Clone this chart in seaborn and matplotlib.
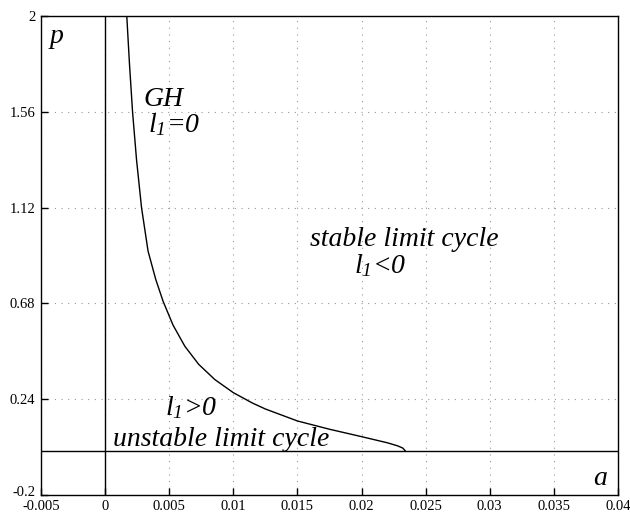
import matplotlib
matplotlib.use("Agg")
import matplotlib.pyplot as plt
import matplotlib.transforms as mtransforms
import seaborn as sns
import pandas as pd

# GH curve (l1 = 0)
a_vals = [0.00169, 0.00190, 0.00214, 0.00245, 0.00284, 0.00335, 0.00395, 0.00452,
          0.00530, 0.00622, 0.00730, 0.00856, 0.01000, 0.01150, 0.01250, 0.01500,
          0.01750, 0.02000, 0.02200, 0.02280, 0.02320, 0.02335, 0.02344]
p_vals = [2.000, 1.780, 1.560, 1.340, 1.120, 0.920, 0.790, 0.690,
          0.580, 0.483, 0.400, 0.330, 0.270, 0.222, 0.195, 0.140,
          0.102, 0.068, 0.040, 0.026, 0.016, 0.007, 0.000]

x_ticks = [-0.005, 0, 0.005, 0.01, 0.015, 0.02, 0.025, 0.03, 0.035, 0.04]
x_labels = ["-0.005", "0", "0.005", "0.01", "0.015", "0.02", "0.025", "0.03", "0.035", "0.04"]
y_ticks = [-0.2, 0.24, 0.68, 1.12, 1.56, 2.0]
y_labels = ["-0.2", "0.24", "0.68", "1.12", "1.56", "2"]

sns.set_theme(style="white")
plt.rcParams["font.family"] = ["Liberation Serif", "DejaVu Serif"]
plt.rcParams["mathtext.fontset"] = "custom"
plt.rcParams["mathtext.rm"] = "Liberation Serif:italic"
plt.rcParams["mathtext.it"] = "Liberation Serif:italic"

fig = plt.figure(figsize=(6.30, 5.16), dpi=100)
ax = fig.add_axes([41 / 630, 21 / 516, (618 - 41) / 630, (495 - 16) / 516])

df = pd.DataFrame({"a": a_vals, "p": p_vals})
sns.lineplot(data=df, x="a", y="p", sort=False, estimator=None, color="black",
             linewidth=1.0, ax=ax)

ax.axvline(0, color="black", linewidth=1.0)
ax.axhline(0, color="black", linewidth=1.0)

ax.set_xlim(-0.005, 0.04)
ax.set_ylim(-0.2, 2.0)
ax.set_xticks(x_ticks)
ax.set_xticklabels(x_labels)
ax.set_yticks(y_ticks)
ax.set_yticklabels(y_labels)
ax.set_xlabel("")
ax.set_ylabel("")
ax.grid(True, color="#999999", linestyle=(0, (1, 5)), linewidth=0.8)
ax.tick_params(direction="in", length=5, width=1, colors="black", labelsize=10.5,
               bottom=True, left=True)
ax.tick_params(axis="x", pad=3.5)
ax.tick_params(axis="y", pad=4)
for s in ax.spines.values():
    s.set_color("black")
    s.set_linewidth(1.0)

# lift the lowest y label slightly so it clears the first x label
lbl = ax.get_yticklabels()[0]
lbl.set_transform(lbl.get_transform() +
                  mtransforms.ScaledTranslation(0, 4 / 100, fig.dpi_scale_trans))

fs = 20
kw = dict(fontsize=fs, style="italic", ha="left", va="baseline", color="black")
ax.text(-0.0043, 1.876, "p", **kw)
ax.text(0.03805, -0.1518, "a", **kw)
ax.text(0.00302, 1.588, "GH", **kw)
ax.text(0.00333, 1.469, r"$l_1$=0", **kw)
ax.text(0.01597, 0.942, "stable limit cycle", **kw)
ax.text(0.0194, 0.821, r"$l_1$<0", **kw)
ax.text(0.00466, 0.1648, r"$l_1$>0", **kw)
ax.text(0.0006, 0.0271, "unstable limit cycle", **kw)

fig.savefig("out.png", dpi=100)
